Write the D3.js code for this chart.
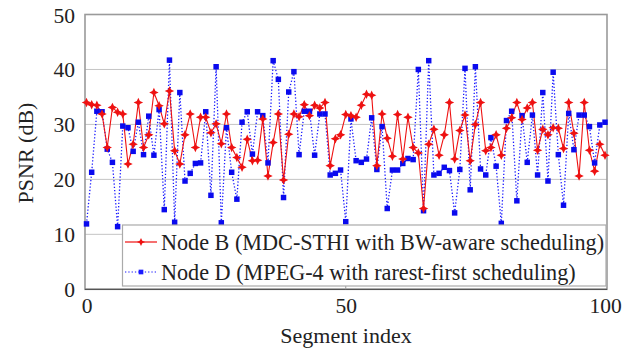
<!DOCTYPE html>
<html>
<head>
<meta charset="utf-8">
<script src="https://cdn.jsdelivr.net/npm/d3@7"></script>
</head>
<body style="margin:0">
<script>
// PSNR per segment
const segments = d3.range(0, 101);
const nodeB = [34.0, 33.6, 33.5, 31.9, 25.8, 33.1, 32.2, 31.9, 22.8, 26.4,
    34.0, 25.8, 28.1, 35.8, 33.4, 30.1, 36.1, 25.2, 22.8, 28.1,
    31.9, 25.8, 31.3, 31.3, 28.5, 30.1, 26.5, 31.9, 25.8, 24.0,
    22.2, 27.3, 23.4, 23.5, 31.0, 20.6, 26.7, 31.9, 19.9, 28.2,
    31.9, 31.4, 33.6, 31.6, 33.5, 33.0, 34.0, 22.5, 27.4, 28.1,
    31.8, 31.6, 31.3, 33.5, 35.5, 35.3, 22.5, 31.9, 27.5, 24.2,
    31.8, 23.7, 31.3, 25.8, 24.8, 14.7, 26.4, 29.1, 24.4, 28.1,
    34.0, 23.7, 28.9, 31.7, 23.4, 30.0, 34.0, 25.2, 25.8, 28.1,
    24.4, 29.3, 31.2, 34.0, 30.9, 33.0, 34.0, 25.3, 29.1, 28.1,
    29.4, 29.3, 25.6, 34.0, 28.4, 20.6, 34.0, 25.3, 21.5, 26.4,
    24.4];
const nodeD = [11.9, 21.3, 32.4, 32.3, 25.5, 23.1, 11.4, 29.7, 29.4, 25.1,
    30.4, 24.5, 31.5, 24.4, 32.7, 14.5, 41.7, 12.2, 35.8, 19.7,
    21.1, 22.9, 23.0, 32.3, 17.1, 40.5, 12.1, 29.4, 21.3, 16.4,
    30.4, 32.3, 24.6, 32.3, 31.6, 23.0, 41.6, 38.2, 16.7, 35.9,
    39.6, 24.5, 32.4, 32.4, 24.4, 31.9, 31.9, 20.8, 21.1, 21.7,
    12.3, 31.0, 23.4, 23.1, 23.7, 31.2, 21.8, 29.6, 14.7, 21.7,
    21.7, 22.9, 23.8, 23.6, 40.0, 14.3, 41.6, 20.8, 21.1, 22.2,
    21.6, 13.9, 21.8, 40.2, 18.1, 40.5, 21.9, 20.8, 27.6, 22.4,
    12.0, 30.7, 32.4, 16.1, 31.6, 23.1, 31.7, 20.8, 35.8, 19.7,
    39.5, 24.5, 15.3, 32.0, 25.4, 31.7, 31.7, 29.6, 23.0, 29.9,
    30.4];
const seriesNames = ['Node B (MDC-STHI with BW-aware scheduling)',
    'Node D (MPEG-4 with rarest-first scheduling)'];
const xTicks = [0, 50, 100];
const yTicks = [0, 10, 20, 30, 40, 50];

const FONT = "'Times New Roman'";
const W = 632, H = 349;
const svg = d3.select('body').append('svg')
    .attr('width', W)
    .attr('height', H)
    .style('background', '#fff');

const x = d3.scaleLinear().domain([0, 100]).range([86.5, 605]);
const y = d3.scaleLinear().domain([0, 50]).range([289.3, 14.5]);

// grid lines
svg.append('g')
    .selectAll('line')
    .data(yTicks.filter(t => t > 0 && t < 50))
    .join('line')
    .attr('x1', 85).attr('x2', 607)
    .attr('y1', d => y(d)).attr('y2', d => y(d))
    .attr('stroke', '#c4c4c4')
    .attr('stroke-width', 1);

// frame
svg.append('rect')
    .attr('x', 85).attr('y', y(50))
    .attr('width', 607 - 85).attr('height', y(0) - y(50))
    .attr('fill', 'none')
    .attr('stroke', '#9a9a9a')
    .attr('stroke-width', 1.6);
svg.append('line')
    .attr('x1', 85).attr('x2', 607)
    .attr('y1', y(0)).attr('y2', y(0))
    .attr('stroke', '#555')
    .attr('stroke-width', 1.2);

// axes (labels drawn by the axis generator, font reset on the group)
const xAxis = d3.axisBottom(x).tickValues(xTicks).tickSize(0).tickPadding(7);
const yAxis = d3.axisLeft(y).tickValues(yTicks).tickSize(0).tickPadding(10);

const gx = svg.append('g').attr('transform', `translate(0,${y(0)})`).call(xAxis);
const gy = svg.append('g').attr('transform', 'translate(85,0)').call(yAxis);
[gx, gy].forEach(g => {
    g.attr('font-family', null).attr('font-size', 21.5);
    g.select('.domain').remove();
    g.selectAll('text')
        .style('font-family', FONT)
        .attr('fill', '#222');
});
gx.selectAll('text').attr('dy', '0.76em');
gy.selectAll('text').attr('dy', '0.35em');

// small inward tick at x = 50
svg.append('line')
    .attr('x1', x(50)).attr('x2', x(50))
    .attr('y1', y(0)).attr('y2', y(0) - 5)
    .attr('stroke', '#999');

svg.append('text')
    .attr('x', 346).attr('y', 343)
    .attr('text-anchor', 'middle')
    .attr('font-size', 22)
    .style('font-family', FONT)
    .attr('fill', '#222')
    .text('Segment index');

svg.append('text')
    .attr('transform', 'translate(33,153) rotate(-90)')
    .attr('text-anchor', 'middle')
    .attr('font-size', 22)
    .style('font-family', FONT)
    .attr('fill', '#222')
    .text('PSNR (dB)');

// four-point star for Node B
const star4 = {
    draw(ctx, size) {
        const r = Math.sqrt(size) * 0.75, k = r * 0.32;
        ctx.moveTo(0, -r);
        ctx.lineTo(k, -k);
        ctx.lineTo(r, 0);
        ctx.lineTo(k, k);
        ctx.lineTo(0, r);
        ctx.lineTo(-k, k);
        ctx.lineTo(-r, 0);
        ctx.lineTo(-k, -k);
        ctx.closePath();
    }
};

const line = d3.line()
    .x((d, i) => x(segments[i]))
    .y(d => y(d));

// Node D (blue dotted, squares)
svg.append('path')
    .datum(nodeD)
    .attr('d', line)
    .attr('fill', 'none')
    .attr('stroke', '#1a1aff')
    .attr('stroke-width', 1.3)
    .attr('stroke-dasharray', '1.3,2');

// Node B (red solid, stars)
svg.append('path')
    .datum(nodeB)
    .attr('d', line)
    .attr('fill', 'none')
    .attr('stroke', '#ee1111')
    .attr('stroke-width', 1.1);

svg.append('g')
    .selectAll('path')
    .data(nodeD)
    .join('path')
    .attr('transform', (d, i) => `translate(${x(segments[i])},${y(d)})`)
    .attr('d', d3.symbol(d3.symbolSquare, 30))
    .attr('fill', '#0a0aee');

svg.append('g')
    .selectAll('path')
    .data(nodeB)
    .join('path')
    .attr('transform', (d, i) => `translate(${x(segments[i])},${y(d)})`)
    .attr('d', d3.symbol(star4, 40))
    .attr('fill', '#ee1111');

// legend
const legend = svg.append('g');
legend.append('rect')
    .attr('x', 122.5).attr('y', 225)
    .attr('width', 606 - 122.5).attr('height', 61)
    .attr('fill', '#fff')
    .attr('stroke', '#aaa')
    .attr('stroke-width', 1.2);

const legendRows = [
    { name: seriesNames[0], color: '#ee1111', dash: null, sym: star4, size: 30, y: 242 },
    { name: seriesNames[1], color: '#1a1aff', dash: '1.3,2', sym: d3.symbolSquare, size: 22, y: 272 }
];
legendRows.forEach(r => {
    legend.append('line')
        .attr('x1', 125).attr('x2', 157)
        .attr('y1', r.y).attr('y2', r.y)
        .attr('stroke', r.color)
        .attr('stroke-width', 1.2)
        .attr('stroke-dasharray', r.dash);
    legend.append('path')
        .attr('transform', `translate(141,${r.y})`)
        .attr('d', d3.symbol(r.sym, r.size))
        .attr('fill', r.color);
    legend.append('text')
        .attr('x', 161).attr('y', r.y)
        .attr('dy', '0.34em')
        .attr('font-size', 22.2)
        .style('font-family', FONT)
        .attr('fill', '#222')
        .text(r.name);
});
</script>
</body>
</html>
